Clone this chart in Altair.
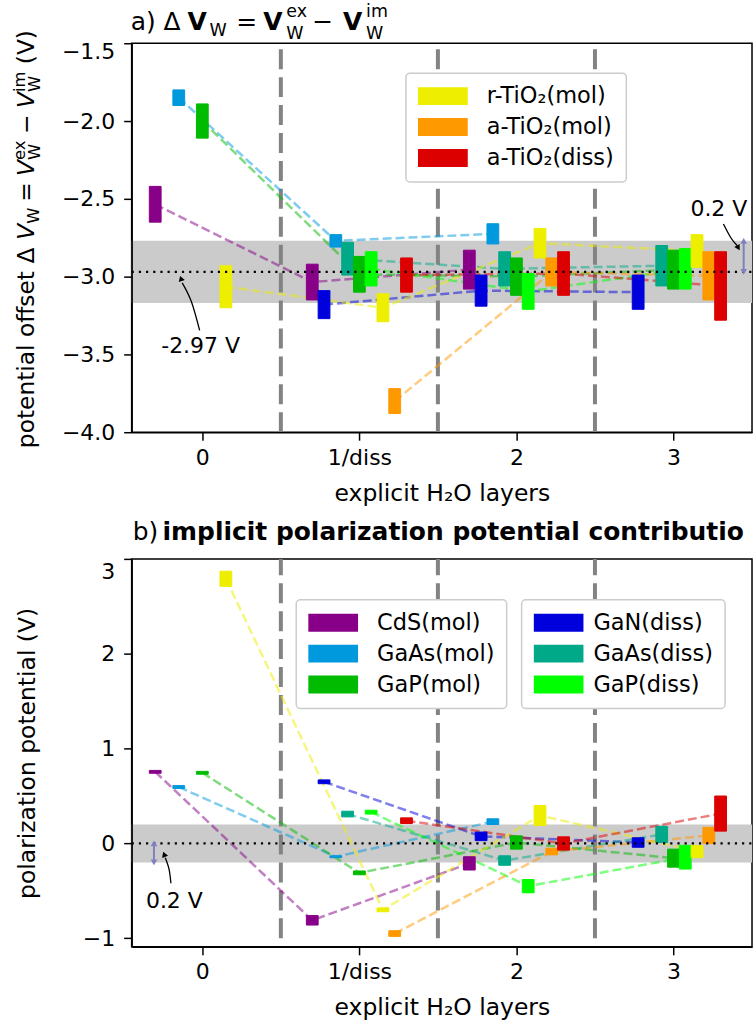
import altair as alt
import pandas as pd

FONT = "DejaVu Sans"

# ---------------- categories / colours ----------------
materials = ["CdS(mol)", "GaN(diss)", "GaAs(mol)", "GaAs(diss)", "GaP(mol)",
             "GaP(diss)", "r-TiO₂(mol)", "a-TiO₂(mol)", "a-TiO₂(diss)"]
colors = ["#880088", "#0000dd", "#0099dd", "#00aa88", "#00bb00",
          "#00ff00", "#eeee00", "#ff9900", "#dd0000"]
offsets = [-0.3, -0.225, -0.15, -0.075, 0.0, 0.075, 0.15, 0.225, 0.3]
layer_pos = [0, 1, 2, 3]
layer_labels = ["0", "1/diss", "2", "3"]

# ---------------- panel a: potential offset ranges (V) ----------------
a_lo = {
    "CdS(mol)":     [-2.65, -3.15, -3.08, None],
    "GaN(diss)":    [None, -3.27, -3.19, -3.21],
    "GaAs(mol)":    [-1.90, -2.81, -2.79, None],
    "GaAs(diss)":   [None, -2.99, -3.06, -3.06],
    "GaP(mol)":     [-2.11, -3.10, -3.12, -3.08],
    "GaP(diss)":    [None, -3.06, -3.21, -3.08],
    "r-TiO₂(mol)":  [-3.20, -3.29, -2.88, -2.94],
    "a-TiO₂(mol)":  [None, -3.88, -3.06, -3.15],
    "a-TiO₂(diss)": [None, -3.10, -3.12, -3.28],
}
a_hi = {
    "CdS(mol)":     [-2.42, -2.92, -2.83, None],
    "GaN(diss)":    [None, -3.09, -2.99, -2.99],
    "GaAs(mol)":    [-1.80, -2.73, -2.66, None],
    "GaAs(diss)":   [None, -2.78, -2.84, -2.80],
    "GaP(mol)":     [-1.89, -2.87, -2.88, -2.83],
    "GaP(diss)":    [None, -2.84, -2.98, -2.82],
    "r-TiO₂(mol)":  [-2.93, -3.11, -2.69, -2.73],
    "a-TiO₂(mol)":  [None, -3.72, -2.88, -2.84],
    "a-TiO₂(diss)": [None, -2.88, -2.84, -2.84],
}
a_ref = [-2.97]
a_band = [-3.17, -2.77]

# ---------------- panel b: polarization potential ranges (V) ----------------
b_lo = {
    "CdS(mol)":     [0.74, -0.86, -0.28, None],
    "GaN(diss)":    [None, 0.63, 0.03, -0.04],
    "GaAs(mol)":    [0.58, -0.15, 0.20, None],
    "GaAs(diss)":   [None, 0.28, -0.23, 0.01],
    "GaP(mol)":     [0.73, -0.33, -0.06, -0.25],
    "GaP(diss)":    [None, 0.31, -0.52, -0.27],
    "r-TiO₂(mol)":  [2.71, -0.72, 0.19, -0.15],
    "a-TiO₂(mol)":  [None, -0.98, -0.12, 0.00],
    "a-TiO₂(diss)": [None, 0.21, -0.07, 0.13],
}
b_hi = {
    "CdS(mol)":     [0.77, -0.76, -0.14, None],
    "GaN(diss)":    [None, 0.67, 0.12, 0.06],
    "GaAs(mol)":    [0.61, -0.13, 0.26, None],
    "GaAs(diss)":   [None, 0.34, -0.13, 0.18],
    "GaP(mol)":     [0.76, -0.29, 0.08, -0.06],
    "GaP(diss)":    [None, 0.35, -0.38, -0.02],
    "r-TiO₂(mol)":  [2.87, -0.68, 0.40, -0.02],
    "a-TiO₂(mol)":  [None, -0.92, -0.05, 0.17],
    "a-TiO₂(diss)": [None, 0.27, 0.07, 0.50],
}
b_ref = [0.0]
b_band = [-0.2, 0.2]

# separators between layer counts
sep_x = [0.5, 1.5, 2.5]

# annotations (data coordinates)
a_note_text = ["-2.97 V", "0.2 V"]
a_note_x = [-0.011, 3.289]
a_note_y = [-3.449, -2.564]
a_curve_x = [[-0.017, -0.070, -0.128], [3.318, 3.365, 3.405]]
a_curve_y = [[-3.346, -3.160, -3.040], [-2.662, -2.750, -2.800]]
a_head_x = [-0.136, 3.413]
a_head_y = [-3.012, -2.815]
a_head_ang = [342, 150]
a_span_x = [3.447]
a_span_lo = [-2.97]
a_span_hi = [-2.77]

b_note_text = ["0.2 V"]
b_note_x = [-0.178]
b_note_y = [-0.605]
b_curve_x = [[-0.200, -0.212, -0.236]]
b_curve_y = [[-0.420, -0.270, -0.150]]
b_head_x = [-0.243]
b_head_y = [-0.115]
b_head_ang = [340]
b_span_x = [-0.308]
b_span_lo = [-0.20]
b_span_hi = [0.0]

# ---------------- geometry / style ----------------
W, HA, HB = 622, 390, 389
LEFT, TOP_A, TOP_B = 131, 41, 558
FIG_W, FIG_H = 756, 1027
BAR_W = 0.075
X_DOMAIN = [-0.45, 3.5]
A_DOMAIN = [-4.0, -1.5]
B_DOMAIN = [-1.09, 3.0]
RECT_PATH = "M-1,-0.36H1V0.36H-1Z"
LINE_PATH = "M-1,0H1"
SPAN_COLOR = "#8080c0"
TICK_FS, TITLE_FS = 22, 23.5


def table(lo, hi):
    rows = []
    for m, off in zip(materials, offsets):
        for g, l, h in zip(layer_pos, lo[m], hi[m]):
            if l is None:
                continue
            rows.append({"material": m, "xc": g + off, "x0": g + off - BAR_W / 2,
                         "x1": g + off + BAR_W / 2, "lo": l, "hi": h, "mid": (l + h) / 2})
    return pd.DataFrame(rows)


xs = alt.Scale(domain=X_DOMAIN, nice=False, zero=False)
label_expr = "[" + ",".join("'%s'" % s for s in layer_labels) + "][datum.value]"
XAXIS = alt.Axis(values=layer_pos, labelExpr=label_expr, title="explicit H₂O layers",
                 titleFontSize=TITLE_FS, titleFontWeight="normal", titleY=68,
                 titleBaseline="alphabetic", labelFontSize=TICK_FS, labelPadding=7,
                 tickSize=8, tickWidth=1.5, domainWidth=1.5, grid=False, zindex=1)

# three scales with identical colours; different domain order keeps legends apart
fill_scale = alt.Scale(domain=materials, range=colors)
line_scale = alt.Scale(domain=materials[::-1], range=colors[::-1])
stroke_order = [1, 3, 5, 0, 2, 4, 6, 7, 8]
stroke_scale = alt.Scale(domain=[materials[i] for i in stroke_order],
                         range=[colors[i] for i in stroke_order])

leg_common = dict(orient="none", title=None, padding=12, rowPadding=8, clipHeight=22,
                  labelFontSize=22.5, labelFont=FONT, labelColor="black",
                  strokeColor="#cccccc", fillColor="white", cornerRadius=4,
                  symbolSize=2500, symbolOpacity=1)


def text_layers(rows, X, Y, ydom, height, top, angle=0):
    """rows: (text, page_x, page_y, size, weight, style) -> layers grouped by style"""
    out = []
    keys = sorted({(r[3], r[4], r[5]) for r in rows})
    for fs, wt, st in keys:
        sel = [r for r in rows if (r[3], r[4], r[5]) == (fs, wt, st)]
        xs_ = [X_DOMAIN[0] + (r[1] - LEFT) / W * (X_DOMAIN[1] - X_DOMAIN[0]) for r in sel]
        ys_ = [ydom[1] - (r[2] - top) / height * (ydom[1] - ydom[0]) for r in sel]
        df = pd.DataFrame({"t": [r[0] for r in sel], "x": xs_, "y": ys_})
        out.append(alt.Chart(df).mark_text(
            align="left", baseline="alphabetic", font=FONT, fontSize=fs, fontWeight=wt,
            fontStyle=st, angle=angle, color="black").encode(x=X("x"), y=Y("y"), text="t:N"))
    return out


def panel(df, ys, yaxis, ydom, ref, band, vlo, vhi, fill_legend, stroke_legend,
          notes, curves, heads, span, height, top, titles):
    # every layer carries the same axis definition so the shared axes merge cleanly
    Y = lambda f: alt.Y(f, type="quantitative", scale=ys, axis=yaxis)
    X = lambda f: alt.X(f, type="quantitative", scale=xs, axis=XAXIS)

    # transparent rectangle that fixes the outer extent of the figure
    frame = alt.Chart(pd.DataFrame({"k": [0]})).mark_rect(opacity=0).encode(
        x=alt.value(-LEFT), x2=alt.value(FIG_W - LEFT),
        y=alt.value(-top if top == TOP_A else 0),
        y2=alt.value(height if top == TOP_A else FIG_H - top))

    band_l = alt.Chart(pd.DataFrame({"lo": [band[0]], "hi": [band[1]]})).mark_rect(
        color="#cbcbcb").encode(x=alt.value(0), x2=alt.value(W), y=Y("lo"), y2="hi:Q")

    seps = alt.Chart(pd.DataFrame({"x": sep_x, "lo": [vlo] * 3, "hi": [vhi] * 3})).mark_rule(
        color="#838383", strokeWidth=4, strokeDash=[20, 8]).encode(x=X("x"), y=Y("lo"), y2="hi:Q")

    lines = alt.Chart(df).mark_line(strokeDash=[9, 4], strokeWidth=2.5, opacity=0.5).encode(
        x=X("xc"), y=Y("mid"),
        color=alt.Color("material:N", scale=line_scale, legend=None),
        detail="material:N", order="xc:Q")

    bars = alt.Chart(df).mark_rect().encode(
        x=X("x0"), x2="x1:Q", y=Y("lo"), y2="hi:Q",
        fill=alt.Fill("material:N", scale=fill_scale, legend=fill_legend),
        stroke=alt.Stroke("material:N", scale=stroke_scale, legend=stroke_legend))

    dotted = alt.Chart(pd.DataFrame({"r": ref})).mark_rule(
        color="black", strokeWidth=2.2, strokeDash=[2.2, 5]).encode(
        y=Y("r"), x=alt.value(0), x2=alt.value(W))

    ntext, nx, ny = notes
    note_l = alt.Chart(pd.DataFrame({"t": ntext, "x": nx, "y": ny})).mark_text(
        fontSize=22, font=FONT, color="black").encode(x=X("x"), y=Y("y"), text="t:N")

    crows = []
    for i, (cx, cy) in enumerate(zip(*curves)):
        for k, (px, py) in enumerate(zip(cx, cy)):
            crows.append({"g": i, "k": k, "x": px, "y": py})
    curve_l = alt.Chart(pd.DataFrame(crows)).mark_line(
        color="black", strokeWidth=1.3, interpolate="natural").encode(
        x=X("x"), y=Y("y"), detail="g:N", order="k:Q")

    hx, hy, ha = heads
    head_l = alt.Chart(pd.DataFrame({"x": hx, "y": hy, "a": ha})).mark_point(
        shape="triangle-up", filled=True, color="black", size=40, opacity=1).encode(
        x=X("x"), y=Y("y"), angle=alt.Angle("a:Q", scale=None))

    sx, slo, shi = span
    span_df = pd.DataFrame({"x": sx, "lo": slo, "hi": shi})
    span_l = alt.Chart(span_df).mark_rule(color=SPAN_COLOR, strokeWidth=2).encode(
        x=X("x"), y=Y("lo"), y2="hi:Q")
    tips = pd.DataFrame({"x": sx * 2, "y": [slo[0], shi[0]], "a": [180, 0]})
    tip_l = alt.Chart(tips).mark_point(shape="triangle-up", filled=True, color=SPAN_COLOR,
                                       size=45, opacity=1).encode(
        x=X("x"), y=Y("y"), angle=alt.Angle("a:Q", scale=None))

    extra = []
    for rows, angle in titles:
        extra += text_layers(rows, X, Y, ydom, height, top, angle)

    layers = [frame, band_l, seps, lines, bars, dotted, curve_l, head_l, span_l, tip_l,
              note_l] + extra
    return alt.layer(*layers).properties(width=W, height=height)


# ---------------- scales / axes / legends ----------------
ya = alt.Scale(domain=A_DOMAIN, nice=False, zero=False)
yb = alt.Scale(domain=B_DOMAIN, nice=False, zero=False)
yaxis_a = alt.Axis(values=[-4.0, -3.5, -3.0, -2.5, -2.0, -1.5], format=".1f", title=None,
                   labelFontSize=TICK_FS, labelPadding=9, tickSize=8, tickWidth=1.5,
                   labelOffset={"condition": {"test": "datum.value == -1.5", "value": 8},
                                "value": 0},
                   domainWidth=1.5, grid=False, zindex=1)
yaxis_b = alt.Axis(values=[-1, 0, 1, 2, 3], format="d", title="polarization potential (V)",
                   titleFontSize=TITLE_FS, titleFontWeight="normal", titleAngle=270,
                   titleBaseline="alphabetic", titleAlign="center", titleX=33.5 - LEFT,
                   titleY=HB / 2, labelFontSize=TICK_FS, labelPadding=9, tickSize=8,
                   labelOffset={"condition": {"test": "datum.value == 3", "value": 13},
                                "value": 0},
                   tickWidth=1.5, domainWidth=1.5, grid=False, zindex=1)

fill_leg_a = alt.Legend(values=materials[6:], legendX=275, legendY=30, symbolType=RECT_PATH,
                        symbolStrokeWidth=0, labelOffset=19, **leg_common)
fill_leg_b = alt.Legend(values=[materials[0], materials[2], materials[4]], legendX=165,
                        legendY=41, symbolType=RECT_PATH, symbolStrokeWidth=0,
                        labelOffset=19, **leg_common)
stroke_leg_b = alt.Legend(values=[materials[1], materials[3], materials[5]], legendX=391,
                          legendY=41, symbolType=LINE_PATH, symbolStrokeWidth=18,
                          symbolOffset=-9, labelOffset=1, **leg_common)

# ---------------- titles (math pieces placed as text; page pixel positions) ----------------
N, B, I = "normal", "bold", "italic"
title_a = [("a)", 130, 28, 25, N, N), ("Δ", 163, 28, 25, N, N), ("V", 187, 28, 25, B, N),
           ("W", 209, 34, 17.5, N, N), ("=", 236, 28, 25, N, N), ("V", 263, 28, 25, B, N),
           ("ex", 286, 15, 17.5, N, N), ("W", 286, 37, 17.5, N, N), ("−", 312, 28, 25, N, N),
           ("V", 343, 28, 25, B, N), ("im", 366, 15, 17.5, N, N), ("W", 366, 37, 17.5, N, N)]
ytitle_a = [("potential offset Δ", 33.5, 447, 23.4, N, N), ("V", 33.5, 238, 23.4, N, I),
            ("W", 38.5, 222, 16.4, N, N), ("=", 33.5, 200, 23.4, N, N),
            ("V", 33.5, 174, 23.4, N, I), ("ex", 24.5, 158, 16.4, N, N),
            ("W", 39.5, 158, 16.4, N, N), ("−", 33.5, 132, 23.4, N, N),
            ("V", 33.5, 106, 23.4, N, I), ("im", 24.5, 90, 16.4, N, N),
            ("W", 39.5, 90, 16.4, N, N), ("(V)", 33.5, 62, 23.4, N, N)]
title_b = [("b)", 132, 539, 25, N, N)]
title_b_bold_text = "implicit polarization potential contribution"

pa = panel(table(a_lo, a_hi), ya, yaxis_a, A_DOMAIN, a_ref, a_band, -4.0, -1.5, fill_leg_a, None,
           (a_note_text, a_note_x, a_note_y), (a_curve_x, a_curve_y),
           (a_head_x, a_head_y, a_head_ang), (a_span_x, a_span_lo, a_span_hi), HA, TOP_A,
           [(title_a, 0), (ytitle_a, 270)])

tb = pd.DataFrame({"t": [title_b_bold_text],
                   "x": [X_DOMAIN[0] + (162 - LEFT) / W * (X_DOMAIN[1] - X_DOMAIN[0])],
                   "y": [B_DOMAIN[1] - (539 - TOP_B) / HB * (B_DOMAIN[1] - B_DOMAIN[0])]})
title_b_bold = alt.Chart(tb).mark_text(align="left", baseline="alphabetic", font=FONT,
                                       fontSize=25, fontWeight="bold", color="black",
                                       limit=FIG_W - 162, ellipsis=" ").encode(
    x=alt.X("x:Q", scale=xs, axis=XAXIS), y=alt.Y("y:Q", scale=yb, axis=yaxis_b), text="t:N")

pb = panel(table(b_lo, b_hi), yb, yaxis_b, B_DOMAIN, b_ref, b_band, -1.0, 3.0, fill_leg_b,
           stroke_leg_b, (b_note_text, b_note_x, b_note_y), (b_curve_x, b_curve_y),
           (b_head_x, b_head_y, b_head_ang), (b_span_x, b_span_lo, b_span_hi), HB, TOP_B,
           [(title_b, 0)])
pb = alt.layer(*(list(pb.layer) + [title_b_bold])).properties(width=W, height=HB)

chart = alt.vconcat(pa, pb, spacing=TOP_B - TOP_A - HA, bounds="flush", padding=0).resolve_scale(
    x="independent", y="independent", color="independent", fill="independent",
    stroke="independent").resolve_legend(fill="independent", stroke="independent").configure(
    font=FONT, background="white").configure_view(
    stroke="black", strokeWidth=1.5).configure_axis(
    labelFont=FONT, titleFont=FONT, labelColor="black", titleColor="black",
    domainColor="black", tickColor="black").configure_legend(strokeWidth=1.5)

chart.save("out.html", embed_options={"renderer": "svg", "actions": False})
